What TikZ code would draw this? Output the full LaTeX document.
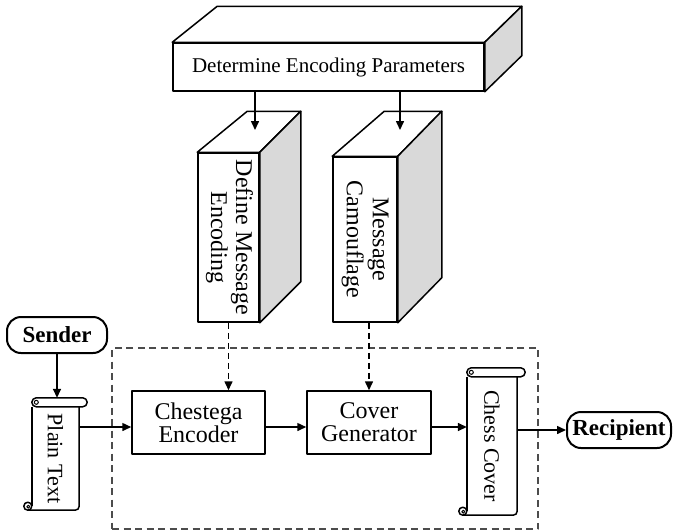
\documentclass[tikz,border=0pt]{standalone}
\usepackage{fontspec}
\setmainfont{Liberation Serif}
\usetikzlibrary{arrows.meta,calc}

\tikzset{
  every picture/.style={line join=round},
  edge line/.style={line width=1.5pt, draw=black},
  frontface/.style={edge line, fill=white, inner sep=0pt, align=center},
  sideface/.style={edge line, fill=black!15},
  topface/.style={edge line, fill=white},
  flowbox/.style={frontface, font=\fontsize{24}{23}\selectfont},
  terminal/.style={draw, line width=2pt, rounded corners=14pt, inner sep=0pt,
    minimum height=36pt, font=\fontsize{23}{26}\selectfont\bfseries},
  scrollnode/.style={inner sep=0pt, font=\fontsize{22}{24}\selectfont},
  scrollline/.style={edge line},
  arr/.style={line width=1.5pt, -{Triangle[length=9pt,width=8pt]}},
  dasharr/.style={arr, dash pattern=on 6pt off 4pt},
  groupbox/.style={draw=black!70, line width=1.5pt, dash pattern=on 7pt off 4.5pt, inner sep=0pt}
}

% visible top and right faces of a box whose front face is node #1
% #2/#3: horizontal depth at the left/right back edge, #4: vertical depth
\newcommand{\cuboidfaces}[4]{%
  \draw[topface] (#1.north west) -- ++(#2,#4) -- ($(#1.north east)+(#3,#4)$)
    -- (#1.north east) -- cycle;
  \draw[sideface] (#1.north east) -- ++(#3,#4) -- ($(#1.south east)+(#3,#4)$)
    -- (#1.south east) -- cycle;
}

% rolled-paper outline around the body node #1
\newcommand{\scrollframe}[1]{%
  \draw[scrollline, rounded corners=4pt] ($(#1.south west)+(-4,0)$) -- (#1.south east) -- (#1.north east);
  \draw[scrollline] (#1.north west) -- ($(#1.south west)+(0,-4)$);
  \draw[scrollline, fill=white] ($(#1.south west)+(-4,-4)$) circle (4pt);
  \draw[line width=1pt] ($(#1.south west)+(-3.5,-3.5)$) circle (1.5pt);
  \draw[scrollline, fill=white, rounded corners=4.5pt] ($(#1.north west)+(0,-9)$) rectangle ($(#1.north east)+(8,0)$);
  \draw[line width=1pt] ($(#1.north west)+(4.5,-4.5)$) circle (2pt);
}

\begin{document}
\begin{tikzpicture}[x=1pt, y=-1pt]
\useasboundingbox (0,0) rectangle (674,531);

% dashed frame around the encoding stage
\node[groupbox, minimum width=426pt, minimum height=181pt] (grp) at (325,438.5) {};

% parameter block
\node[frontface, minimum width=311pt, minimum height=48pt,
      font=\fontsize{21}{24}\selectfont] (param) at (328.5,67) {Determine Encoding Parameters};
\cuboidfaces{param}{45}{37}{-36}

% encoding definition block
\node[frontface, minimum width=61pt, minimum height=169pt] (defenc) at (228.5,237.5)
  {\rotatebox{-90}{\fontsize{24}{25}\selectfont\begin{tabular}{@{}c@{}}Define Message\\Encoding\end{tabular}}};
\cuboidfaces{defenc}{50}{41}{-41}

% camouflage block
\node[frontface, minimum width=64pt, minimum height=165pt] (camo) at (365,239.5)
  {\rotatebox{-90}{\fontsize{24}{26}\selectfont\begin{tabular}{@{}c@{}}Message\\Camouflage\end{tabular}}};
\cuboidfaces{camo}{52}{44}{-45}

\coordinate (t1) at (255,130);
\coordinate (t2) at (400,130);
\draw[arr] (param.south -| t1) -- (t1);
\draw[arr] (param.south -| t2) -- (t2);

% main flow
\node[terminal, minimum width=100pt] (snd) at (57,335) {Sender};
\node[terminal, minimum width=104pt] (rcp) at (619,430) {Recipient};

\node[scrollnode, minimum width=47pt, minimum height=103pt] (pt) at (55.5,458.5) {\rotatebox{-90}{Plain Text}};
\scrollframe{pt}

\node[flowbox, minimum width=133pt, minimum height=63pt] (enc) at (198.5,422.5) {Chestega\\Encoder};
\node[flowbox, minimum width=124pt, minimum height=63pt] (gen) at (369,422.5) {Cover\\Generator};

\node[scrollnode, minimum width=50pt, minimum height=138pt] (cc) at (492,446) {\rotatebox{-90}{Chess Cover}};
\scrollframe{cc}

\coordinate (pttop) at ($(pt.north)+(0,-9)$);
\coordinate (flow) at (0,427);
\draw[arr] (snd.south) -- (snd.south |- pttop);
\draw[arr] (pt.east |- flow) -- (enc.west |- flow);
\draw[arr] (enc.east |- flow) -- (gen.west |- flow);
\draw[arr] (gen.east |- flow) -- (cc.west |- flow);
\draw[arr] (cc.east |- rcp) -- (rcp.west);

\draw[dasharr] (defenc.south) -- (defenc.south |- enc.north);
\draw[dasharr] (gen.north |- camo.south) -- (gen.north);
\end{tikzpicture}
\end{document}
